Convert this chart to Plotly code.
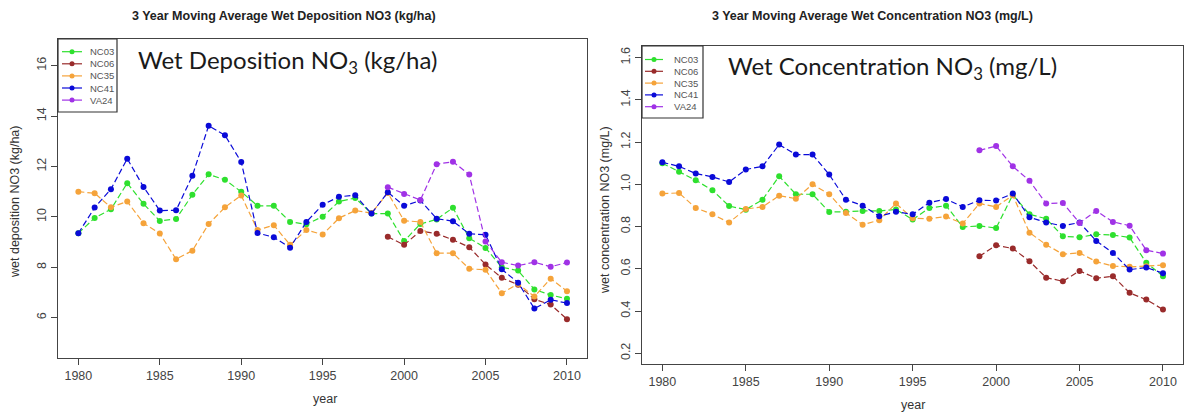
import plotly.graph_objects as go

W, H = 1184, 414

years = list(range(1980, 2011))
series_names = ["NC03", "NC06", "NC35", "NC41", "VA24"]
series_colors = ["#2ee02e", "#992b2b", "#f5a33a", "#0a0ad8", "#a032e6"]

pre = [None] * 19  # 1980-1998 missing for NC06 / VA24

# Wet deposition NO3 (kg/ha)
dep_nc03 = [9.35, 9.96, 10.30, 11.34, 10.52, 9.84, 9.92, 10.88, 11.69, 11.47,
            11.00, 10.44, 10.44, 9.80, 9.71, 10.01, 10.61, 10.75, 10.13, 10.13,
            9.04, 9.72, 9.90, 10.36, 9.15, 8.77, 8.00, 7.87, 7.12, 6.90, 6.75]
dep_nc06 = pre + [9.21, 8.89, 9.44, 9.33, 9.09, 8.80, 8.11, 7.58, 7.31, 6.73, 6.52, 5.94]
dep_nc35 = [11.00, 10.94, 10.38, 10.61, 9.75, 9.34, 8.32, 8.66, 9.72, 10.38,
            10.85, 9.48, 9.67, 8.89, 9.48, 9.30, 9.95, 10.25, 10.15, 10.95,
            9.85, 9.80, 8.56, 8.56, 7.94, 7.90, 6.97, 7.34, 6.84, 7.55, 7.05]
dep_nc41 = [9.35, 10.37, 11.10, 12.31, 11.19, 10.25, 10.26, 11.63, 13.62, 13.24,
            12.18, 9.36, 9.19, 8.78, 9.80, 10.48, 10.80, 10.86, 10.13, 10.98,
            10.44, 10.65, 9.93, 9.83, 9.33, 9.29, 7.92, 7.39, 6.36, 6.71, 6.58]
dep_va24 = pre + [11.18, 10.91, 10.67, 12.09, 12.19, 11.68, 9.02, 8.20, 8.07, 8.20, 8.02, 8.19]

# Wet concentration NO3 (mg/L)
conc_nc03 = [1.100, 1.060, 1.019, 0.972, 0.897, 0.880, 0.927, 1.038, 0.953, 0.953,
             0.869, 0.870, 0.874, 0.874, 0.881, 0.833, 0.888, 0.899, 0.798, 0.803,
             0.793, 0.950, 0.858, 0.837, 0.754, 0.749, 0.763, 0.760, 0.748, 0.629, 0.565]
conc_nc06 = pre + [0.659, 0.711, 0.696, 0.636, 0.558, 0.541, 0.590, 0.555, 0.565, 0.486, 0.454, 0.407]
conc_nc35 = [0.956, 0.959, 0.888, 0.858, 0.819, 0.883, 0.893, 0.946, 0.932, 1.000,
             0.953, 0.864, 0.809, 0.830, 0.909, 0.839, 0.837, 0.847, 0.814, 0.909,
             0.893, 0.948, 0.771, 0.714, 0.669, 0.675, 0.634, 0.613, 0.609, 0.612, 0.617]
conc_nc41 = [1.104, 1.085, 1.051, 1.035, 1.011, 1.070, 1.085, 1.188, 1.141, 1.141,
             1.046, 0.927, 0.899, 0.849, 0.870, 0.858, 0.913, 0.930, 0.893, 0.924,
             0.923, 0.956, 0.844, 0.819, 0.803, 0.819, 0.732, 0.675, 0.596, 0.606, 0.579]
conc_va24 = pre + [1.161, 1.181, 1.085, 1.017, 0.909, 0.912, 0.817, 0.874, 0.822, 0.804, 0.688, 0.672]

dep_series = [dep_nc03, dep_nc06, dep_nc35, dep_nc41, dep_va24]
conc_series = [conc_nc03, conc_nc06, conc_nc35, conc_nc41, conc_va24]

x_ticks = [1980, 1985, 1990, 1995, 2000, 2005, 2010]
dep_ticks = [6, 8, 10, 12, 14, 16]
conc_ticks = [0.2, 0.4, 0.6, 0.8, 1.0, 1.2, 1.4, 1.6]


def px(x):
    return x / W


def py(y):
    return 1 - y / H


fig = go.Figure()

for vals, name, col in zip(dep_series, series_names, series_colors):
    fig.add_trace(go.Scatter(
        x=years, y=vals, name=name, mode="lines+markers",
        line=dict(color=col, width=1.2, dash="6px,3px"),
        marker=dict(color=col, size=6),
        xaxis="x", yaxis="y", showlegend=False, connectgaps=False))

for vals, name, col in zip(conc_series, series_names, series_colors):
    fig.add_trace(go.Scatter(
        x=years, y=vals, name=name, mode="lines+markers",
        line=dict(color=col, width=1.2, dash="6px,3px"),
        marker=dict(color=col, size=6),
        xaxis="x2", yaxis="y2", showlegend=False, connectgaps=False))

tickfont = dict(family="Liberation Sans, Arial, sans-serif", size=12.5, color="#444")
axis_common = dict(showgrid=False, zeroline=False, showline=True, mirror=True,
                   linecolor="#444", linewidth=1.2, ticks="outside", ticklen=6,
                   tickcolor="#444", tickwidth=1, tickfont=tickfont, automargin=False)

fig.update_layout(
    width=W, height=H,
    margin=dict(l=0, r=0, t=0, b=0),
    paper_bgcolor="white", plot_bgcolor="white",
    showlegend=False,
    xaxis=dict(domain=[px(58), px(587)], range=[1978.75, 2011.23],
               tickvals=x_ticks, anchor="y", **axis_common),
    yaxis=dict(domain=[py(358), py(39)], range=[4.40, 17.06],
               tickvals=dep_ticks, tickangle=-90, anchor="x", **axis_common),
    xaxis2=dict(domain=[px(642), px(1183)], range=[1978.78, 2011.2],
                tickvals=x_ticks, anchor="y2", **axis_common),
    yaxis2=dict(domain=[py(364), py(46)], range=[0.149, 1.655],
                tickvals=conc_ticks, tickformat=".1f", tickangle=-90, anchor="x2",
                **axis_common),
)

annotations = []
title_font = dict(family="Liberation Sans, Arial, sans-serif", size=12.5, color="#222")
annotations.append(dict(text="<b>3 Year Moving Average Wet Deposition NO3 (kg/ha)</b>",
                        x=px(284), y=py(16), xref="paper", yref="paper",
                        showarrow=False, font=title_font, xanchor="center", yanchor="middle"))
annotations.append(dict(text="<b>3 Year Moving Average Wet Concentration NO3 (mg/L)</b>",
                        x=px(873), y=py(16), xref="paper", yref="paper",
                        showarrow=False, font=title_font, xanchor="center", yanchor="middle"))

label_font = dict(family="Liberation Sans, Arial, sans-serif", size=12.5, color="#333")
annotations.append(dict(text="year", x=px(325), y=py(399), xref="paper", yref="paper",
                        showarrow=False, font=label_font, xanchor="center", yanchor="middle"))
annotations.append(dict(text="year", x=px(913), y=py(405), xref="paper", yref="paper",
                        showarrow=False, font=label_font, xanchor="center", yanchor="middle"))
annotations.append(dict(text="wet deposition NO3 (kg/ha)", x=px(15), y=py(202),
                        xref="paper", yref="paper", showarrow=False, font=label_font,
                        textangle=-90, xanchor="center", yanchor="middle"))
annotations.append(dict(text="wet concentration NO3 (mg/L)", x=px(605), y=py(210),
                        xref="paper", yref="paper", showarrow=False, font=label_font,
                        textangle=-90, xanchor="center", yanchor="middle"))

big_font = dict(family="Lato, Open Sans, sans-serif", size=24, color="#1a1a1a")
annotations.append(dict(text="Wet Deposition NO<sub>3</sub> (kg/ha)", x=px(136), y=py(43),
                        xref="paper", yref="paper", showarrow=False, font=big_font,
                        xanchor="left", yanchor="top"))
annotations.append(dict(text="Wet Concentration NO<sub>3</sub> (mg/L)", x=px(726), y=py(49),
                        xref="paper", yref="paper", showarrow=False, font=big_font,
                        xanchor="left", yanchor="top"))

# legends (layout, drawn as shapes + text)
shapes = []
leg_font = dict(family="Liberation Sans, Arial, sans-serif", size=9.5, color="#555")


def add_legend(box, first_y, step, x0, x1, tx):
    bx0, by0, bx1, by1 = box
    shapes.append(dict(type="rect", xref="paper", yref="paper",
                       x0=px(bx0), x1=px(bx1), y0=py(by1), y1=py(by0),
                       line=dict(color="#333", width=1.2), fillcolor="white", layer="above"))
    for i, (name, col) in enumerate(zip(series_names, series_colors)):
        yy = first_y + i * step
        shapes.append(dict(type="line", xref="paper", yref="paper",
                           x0=px(x0), x1=px(x1), y0=py(yy), y1=py(yy),
                           line=dict(color=col, width=1.2), layer="above"))
        xm = (x0 + x1) / 2
        shapes.append(dict(type="circle", xref="paper", yref="paper",
                           x0=px(xm - 2.5), x1=px(xm + 2.5), y0=py(yy + 2.5), y1=py(yy - 2.5),
                           line=dict(color=col, width=0), fillcolor=col, layer="above"))
        annotations.append(dict(text=name, x=px(tx), y=py(yy), xref="paper", yref="paper",
                                showarrow=False, font=leg_font, xanchor="left", yanchor="middle"))


add_legend((58, 39, 117, 112), 51.7, 12.1, 62, 82, 88)
add_legend((642, 46, 703, 118), 59.5, 11.8, 645, 663, 672)

fig.update_layout(annotations=annotations, shapes=shapes)

fig.write_html("out.html")
